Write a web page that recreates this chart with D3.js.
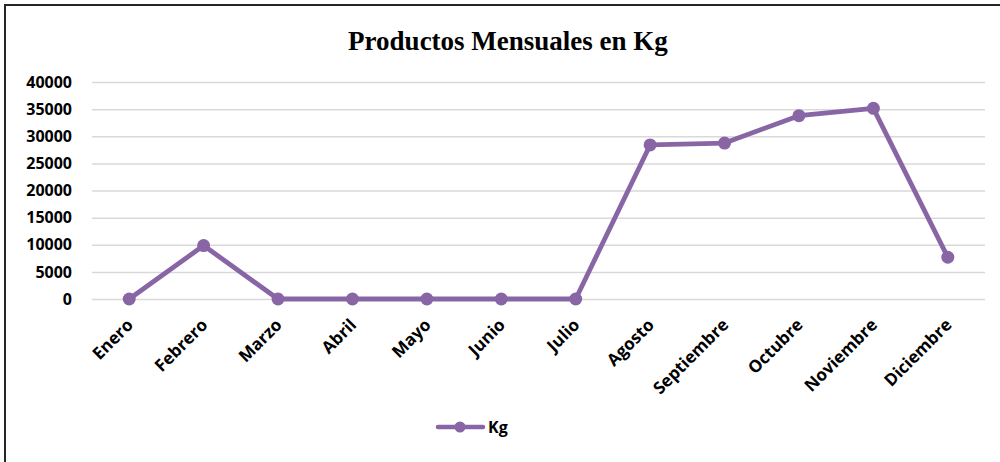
<!DOCTYPE html>
<html><head><meta charset="utf-8">
<script src="https://cdn.jsdelivr.net/npm/d3@7"></script>
<style>body{margin:0;background:#fff}svg{display:block}</style>
</head><body>
<svg id="c" width="1000" height="462"></svg>
<script>
const months = ["Enero","Febrero","Marzo","Abril","Mayo","Junio","Julio","Agosto","Septiembre","Octubre","Noviembre","Diciembre"];
const kg = [0, 9850, 0, 0, 0, 0, 0, 28400, 28750, 33800, 35150, 7700];
const yTicks = [0,5000,10000,15000,20000,25000,30000,35000,40000];
const title = "Productos Mensuales en Kg";
const seriesName = "Kg";

const svg = d3.select("#c");
const lab = "'Open Sans', sans-serif";
const purple = "#8866a6";

svg.append("rect").attr("x",5).attr("y",5).attr("width",1010).attr("height",480)
  .attr("fill","#fff").attr("stroke","#262626").attr("stroke-width",2);

const x = d3.scaleBand().domain(months).range([92, 985]);
const y = d3.scaleLinear().domain([0, 40000]).range([299, 82]);

svg.append("text").attr("x", 508).attr("y", 50).attr("text-anchor","middle")
  .attr("font-family","'Liberation Serif','Times New Roman',serif").attr("font-weight","bold")
  .attr("font-size", 27).attr("fill","#000").text(title);

// gridlines
const gy = svg.append("g").attr("transform","translate(92,0)")
  .call(d3.axisLeft(y).tickValues(yTicks).tickSize(-(985-92)).tickFormat(d3.format("d")).tickPadding(20));
gy.select(".domain").remove();
gy.selectAll(".tick line").attr("stroke","#d9d9d9").attr("stroke-width",1.5);
gy.selectAll(".tick text").attr("font-family",lab).attr("font-weight","bold").attr("font-size",16).attr("fill","#000");

// x axis labels
const gx = svg.append("g").attr("transform","translate(0,299)")
  .call(d3.axisBottom(x).tickSize(0).tickPadding(0));
gx.select(".domain").remove();
gx.selectAll(".tick text")
  .attr("font-family",lab).attr("font-weight","bold").attr("font-size",17).attr("fill","#000")
  .attr("text-anchor","end").attr("dy",null).attr("y",0)
  .attr("transform","translate(5,27) rotate(-45)");

const cx = d => x(d) + x.bandwidth()/2;
const line = d3.line().x((d,i)=>cx(months[i])).y(d=>y(d));
svg.append("path").datum(kg).attr("d", line).attr("fill","none")
  .attr("stroke", purple).attr("stroke-width",4.8).attr("stroke-linejoin","round").attr("stroke-linecap","round");
svg.selectAll("circle.pt").data(kg).join("circle").attr("class","pt")
  .attr("cx",(d,i)=>cx(months[i])).attr("cy",d=>y(d)).attr("r",6.5).attr("fill",purple);

// legend
const lg = svg.append("g");
lg.append("line").attr("x1",438).attr("x2",483).attr("y1",427).attr("y2",427)
  .attr("stroke",purple).attr("stroke-width",4.5).attr("stroke-linecap","round");
lg.append("circle").attr("cx",460).attr("cy",427).attr("r",5.5).attr("fill",purple);
lg.append("text").attr("x",488).attr("y",427).attr("dy","0.35em").attr("font-family",lab)
  .attr("font-weight","bold").attr("font-size",16).attr("fill","#000").text(seriesName);
</script>
</body></html>
